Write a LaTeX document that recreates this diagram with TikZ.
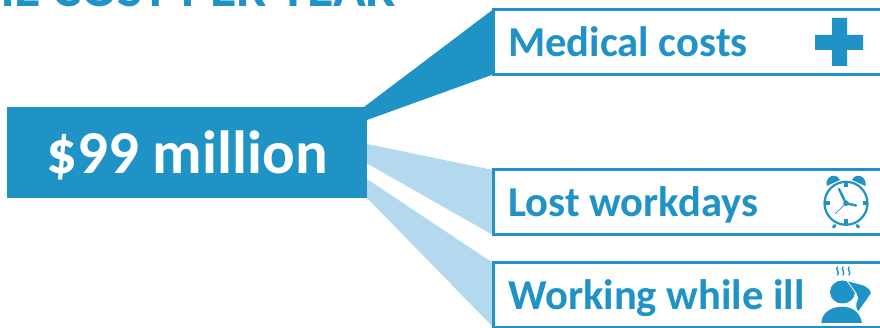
\documentclass[tikz,border=0pt]{standalone}
\usepackage{fontspec}
\usetikzlibrary{backgrounds}
\setmainfont{Carlito}
\definecolor{mainblue}{HTML}{1F92C6}
\definecolor{lightblue}{HTML}{B3D9EF}
\tikzset{
  x=1pt,y=-1pt,
  label box/.style={draw=mainblue,line width=3pt,fill=white,minimum width=420pt,anchor=north west,inner sep=0pt,outer sep=0pt},
  box text/.style={text=mainblue,font=\fontsize{42.6}{42.6}\bfseries\selectfont,anchor=base west,inner sep=0pt},
  dark wedge/.style={fill=mainblue},
  light wedge/.style={fill=lightblue},
  icon line/.style={draw=mainblue,line cap=round},
}
\begin{document}
\begin{tikzpicture}
\useasboundingbox (0,0) rectangle (880,328);
\clip (0,0) rectangle (880,328);
\node[text=mainblue,font=\fontsize{54}{54}\bfseries\selectfont,anchor=base west,inner sep=0pt] (title) at (-46.6,6.5) {THE COST PER YEAR};
\node[fill=mainblue,minimum width=360pt,minimum height=91pt,anchor=north west,inner sep=0pt,outer sep=0pt] (main) at (7,107) {};
\node[text=white,font=\fontsize{61}{61}\bfseries\selectfont,inner sep=0pt,anchor=base] (maintext) at (187,173.5) {\$99 million};
\node[label box,minimum height=65pt] (b1) at (493,9.5) {};
\node[label box,minimum height=65pt] (b2) at (493,170) {};
\node[label box,minimum height=64pt] (b3) at (493,263) {};
\coordinate (d1) at (364,107);
\coordinate (d2) at (367,120);
\coordinate (l1) at (367,144);
\coordinate (l2) at (367,163.5);
\coordinate (m1) at (367,179);
\coordinate (m2) at (367,198);
\begin{scope}[on background layer]
\fill[dark wedge] (d1) -- (b1.north west) -- (b1.south west) -- (d2) -- cycle;
\fill[light wedge] (l1) -- (b2.north west) -- (b2.south west) -- (l2) -- cycle;
\fill[light wedge] (m1) -- (b3.north west) -- (b3.south west) -- (m2) -- cycle;
\end{scope}
\node[box text] (t1) at (508,57) {Medical costs};
\node[box text] (t2) at (508,217) {Lost workdays};
\node[box text] (t3) at (508,310) {Working while ill};
% plus
\fill[mainblue] (832,18) -- (847,18) -- (847,35) -- (863,35) -- (863,50) -- (847,50) -- (847,66) -- (832,66) -- (832,50) -- (815,50) -- (815,35) -- (832,35) -- cycle;
% clock
\fill[mainblue] (826.5,186) .. controls (825,176) and (836,172) .. (840,180) -- cycle;
\fill[mainblue] (865.5,186) .. controls (867,176) and (856,172) .. (852,180) -- cycle;
\draw[fill=white,icon line,line width=2.2pt] (846,203.3) circle (21.5);
\draw[mainblue,line width=4pt] (846,182) -- (846,187);
\draw[mainblue,line width=4pt] (846,219.5) -- (846,224.5);
\draw[mainblue,line width=4pt] (824.5,203.3) -- (829.5,203.3);
\draw[mainblue,line width=4pt] (862.5,203.3) -- (867.5,203.3);
\draw[icon line,line width=3pt] (835,225.5) -- (833.5,227);
\draw[icon line,line width=3pt] (857,225.5) -- (858.5,227);
\draw[icon line,line width=2.4pt] (846,203.3) -- (839,189);
\draw[icon line,line width=2.4pt] (846,203.3) -- (856,205.5);
\draw[icon line,line width=.7pt] (846,203.3) -- (835,214);
\fill[mainblue] (846,203.3) circle (2.8);
% person
\fill[mainblue] (842.5,292) ellipse [x radius=12.5,y radius=11.5];
\fill[mainblue] (821.3,323) .. controls (822,312) and (832,306.7) .. (842,306.7) .. controls (852,306.7) and (860,312) .. (862,323) -- cycle;
\path[fill=mainblue,draw=white,line width=.8pt] (846.7,280.5) -- (863.3,285) .. controls (868,287) and (872,290) .. (871,294) -- (858.3,312) .. controls (856,309) and (855,306) .. (856,303.3) .. controls (858,299) and (858,296) .. (856,293.3) .. controls (853,289) and (850,285) .. (846.7,280.5) -- cycle;
\foreach \sx in {837.5,843,849}{
  \draw[icon line,line width=1.4pt] (\sx,267) .. controls (\sx-2.5,269.5) and (\sx+2.5,271.5) .. (\sx,275);
}
\end{tikzpicture}
\end{document}
